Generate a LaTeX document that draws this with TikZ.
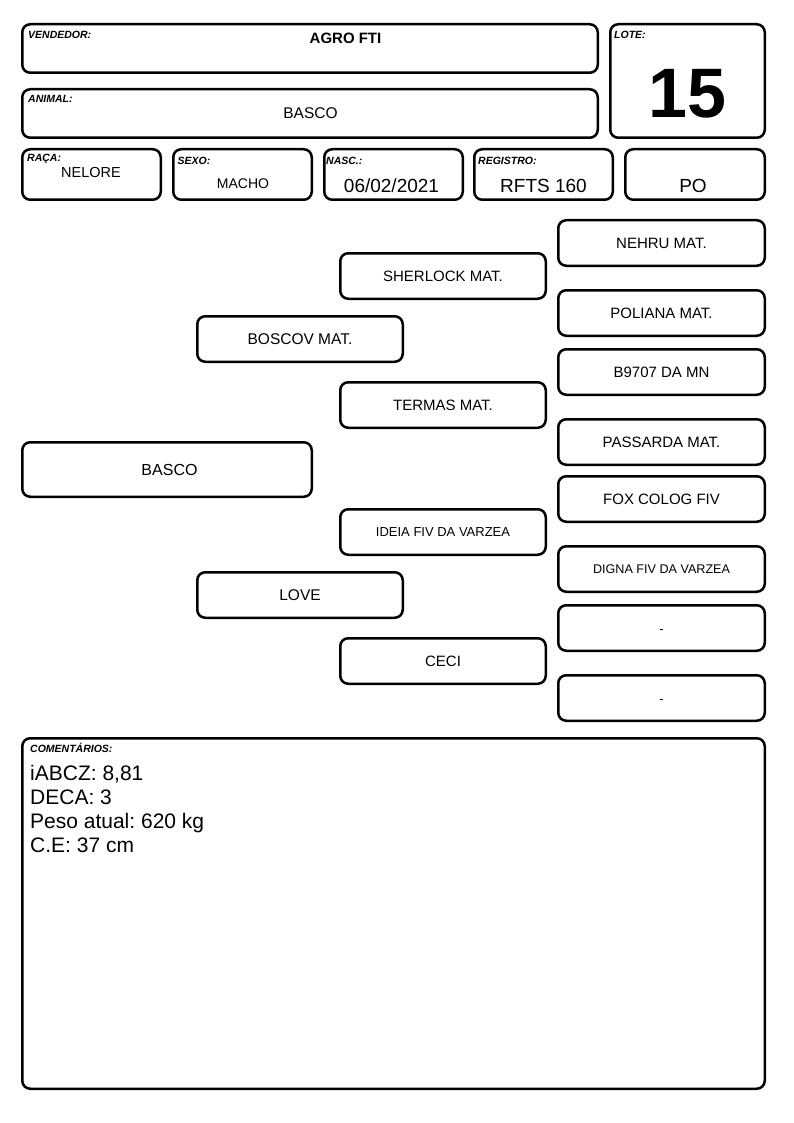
\documentclass[tikz,border=0pt]{standalone}
\usepackage{fontspec}
\setmainfont{Liberation Sans}
\frenchspacing
\newcommand\fsz[1]{\fontsize{#1}{#1}\selectfont}
\tikzset{
  bx/.style={draw=black, line width=2.5pt, rounded corners=8pt, rectangle, inner sep=0pt, fill=white},
  lbl/.style={anchor=base west, inner sep=0pt, font=\fsz{10.5}\bfseries\itshape},
  val/.style={anchor=base, inner sep=0pt},
  ped/.style={bx, minimum width=205.5pt, minimum height=45.5pt, font=\fsz{15.5}},
  pedr/.style={bx, minimum width=206.5pt, minimum height=45.5pt, font=\fsz{15}},
  dashbox/.style={pedr, font=\fsz{13}, text height=10pt, text depth=0pt},
  cline/.style={anchor=base west, inner sep=0pt, font=\fsz{21}},
}
\begin{document}
\begin{tikzpicture}[x=1pt,y=-1pt]
\useasboundingbox (0,0) rectangle (794,1123);
% header boxes
\node[bx, minimum width=575.5pt, minimum height=48.5pt] (vend) at (310,48.5) {};
\node[bx, minimum width=154.5pt, minimum height=113.5pt] (lote) at (687.5,81) {};
\node[bx, minimum width=575.5pt, minimum height=48.5pt] (animal) at (310,113.5) {};
\node[bx, minimum width=138.5pt, minimum height=50.5pt] (raca) at (91.5,174.5) {};
\node[bx, minimum width=138.5pt, minimum height=50.5pt] (sexo) at (242.5,174.5) {};
\node[bx, minimum width=138.5pt, minimum height=50.5pt] (nasc) at (393.5,174.5) {};
\node[bx, minimum width=138.5pt, minimum height=50.5pt] (reg) at (543.5,174.5) {};
\node[bx, minimum width=139.5pt, minimum height=50.5pt] (po) at (695,174.5) {};
% labels
\node[lbl] (lvend) at (28,39) {VENDEDOR:};
\node[lbl] (llote) at (614,39) {LOTE:};
\node[lbl] (lanimal) at (28,103) {ANIMAL:};
\node[lbl] (lraca) at (27,162) {RAÇA:};
\node[lbl] (lsexo) at (177.5,165) {SEXO:};
\node[lbl] (lnasc) at (326,165) {NASC.:};
\node[lbl] (lreg) at (478,165) {REGISTRO:};
% values
\node[val, font=\fsz{15}\bfseries] (tvend) at (345.5,43.5) {AGRO FTI};
\node[val, font=\fsz{70}\bfseries] (tlote) at (687.5,118) {15};
\node[val, font=\fsz{15.5}] (tanimal) at (310.5,118.5) {BASCO};
\node[val, font=\fsz{14.5}] (traca) at (91,177.5) {NELORE};
\node[val, font=\fsz{14}] (tsexo) at (243,189) {MACHO};
\node[val, font=\fsz{19}] (tnasc) at (391.5,193) {06/02/2021};
\node[val, font=\fsz{19}] (treg) at (543.5,193) {RFTS 160};
\node[val, font=\fsz{19}] (tpo) at (693,193) {PO};
% pedigree
\node[bx, minimum width=289.5pt, minimum height=54.5pt, font=\fsz{16}] (basco) at (167,469.5) {\hspace*{5pt}BASCO};
\node[ped] (boscov) at (300,339) {BOSCOV MAT.};
\node[ped] (love) at (300,595) {LOVE};
\node[ped, font=\fsz{15}] (sherlock) at (443,276) {SHERLOCK MAT.};
\node[ped, font=\fsz{15}] (termas) at (443,405) {TERMAS MAT.};
\node[ped, font=\fsz{13}] (ideia) at (443,532) {IDEIA FIV DA VARZEA};
\node[ped, font=\fsz{15}] (ceci) at (443,661) {CECI};
\node[pedr] (nehru) at (661.5,243) {NEHRU MAT.};
\node[pedr] (poliana) at (661.5,313) {POLIANA MAT.};
\node[pedr] (b9707) at (661.5,372) {B9707 DA MN};
\node[pedr] (passarda) at (661.5,442) {PASSARDA MAT.};
\node[pedr] (fox) at (661.5,499) {FOX COLOG FIV};
\node[pedr, font=\fsz{12.6}] (digna) at (661.5,569) {DIGNA FIV DA VARZEA};
\node[dashbox] (dasha) at (661.5,628) {-};
\node[dashbox] (dashb) at (661.5,698) {-};
% comments
\node[bx, minimum width=742.5pt, minimum height=350.5pt] (coment) at (393.5,913.5) {};
\node[lbl] (lcoment) at (30,752.5) {COMENTÁRIOS:};
\node[cline] (c1) at (30,780.5) {iABCZ: 8,81};
\node[cline] (c2) at (30,804.5) {DECA: 3};
\node[cline] (c3) at (30,828.5) {Peso atual: 620 kg};
\node[cline] (c4) at (30,852.5) {C.E: 37 cm};
\end{tikzpicture}
\end{document}
